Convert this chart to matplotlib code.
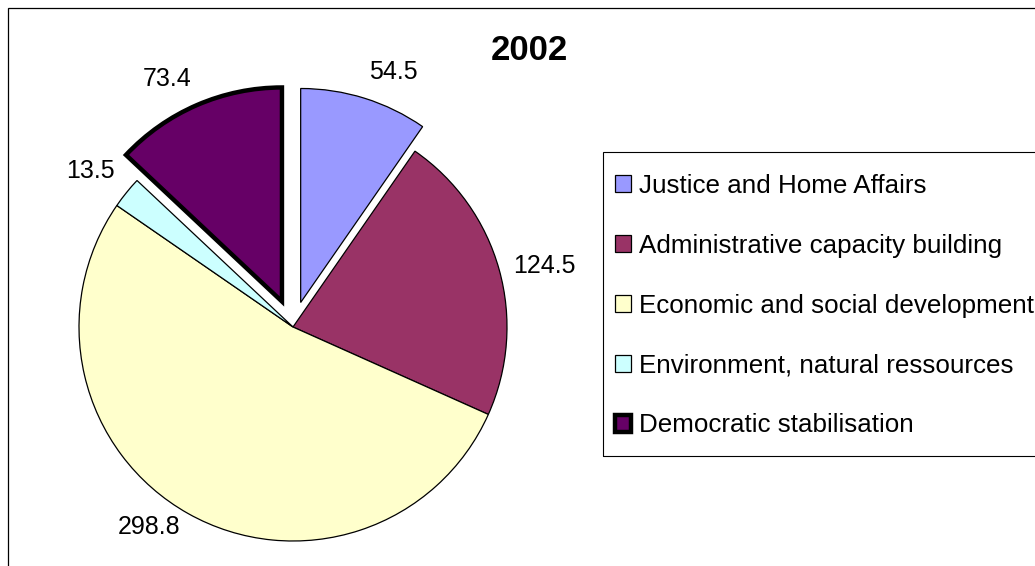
import matplotlib
matplotlib.use('Agg')
import matplotlib.pyplot as plt
from matplotlib.patches import Rectangle

plt.rcParams['font.family'] = ['Liberation Sans', 'DejaVu Sans']

# data
categories = ['Justice and Home Affairs',
              'Administrative capacity building',
              'Economic and social development',
              'Environment, natural ressources',
              'Democratic stabilisation']
values = [54.5, 124.5, 298.8, 13.5, 73.4]
value_labels = ['54.5', '124.5', '298.8', '13.5', '73.4']
title = '2002'

colors = ['#9999FF', '#993366', '#FFFFCC', '#CCFFFF', '#660066']
explode = [0.12, 0, 0, 0, 0.13]

W, H = 1035, 566
fig = plt.figure(figsize=(W / 100, H / 100), dpi=100)

def px_box(x0, y0, x1, y1):
    # pixel box (top-left origin) -> figure fraction rect
    return [x0 / W, 1 - y1 / H, (x1 - x0) / W, (y1 - y0) / H]

# pie centre (293, 327) px, radius 214 px
cx, cy, r, half = 293, 327, 214, 260
ax = fig.add_axes(px_box(cx - half, cy - half, cx + half, cy + half))

wedges, texts = ax.pie(values, labels=value_labels, colors=colors, explode=explode,
                       startangle=90, counterclock=False, labeldistance=1.07,
                       wedgeprops={'edgecolor': 'black', 'linewidth': 0.9},
                       textprops={'fontsize': 18, 'color': 'black'})
wedges[-1].set_linewidth(3.2)
# labels near the top sit above their anchor, like Excel does
for t in texts:
    if t.get_position()[1] > 0.5:
        t.set_va('bottom')

lim = half / r
ax.set_xlim(-lim, lim)
ax.set_ylim(-lim, lim)
ax.axis('off')

fig.text(529 / W, 1 - 50 / H, title, fontsize=25, fontweight='bold',
         ha='center', va='center')

leg = ax.legend(wedges, categories, loc='upper left',
                bbox_to_anchor=(615 / W, 1 - 174 / H), bbox_transform=fig.transFigure,
                borderaxespad=0, borderpad=0, fontsize=18.7, frameon=False,
                handlelength=0.62, handleheight=0.62, handletextpad=0.3,
                labelspacing=1.38)

# legend frame
lx0, ly0, lx1, ly1 = 603, 152, 1040, 456
fig.patches.append(Rectangle((lx0 / W, 1 - ly1 / H), (lx1 - lx0) / W, (ly1 - ly0) / H,
                             transform=fig.transFigure, fill=False,
                             edgecolor='black', linewidth=0.8))

# outer chart frame, cut off at right and bottom
fig.patches.append(Rectangle((8 / W, -0.1), 1.2, 1 - 8 / H + 0.1,
                             transform=fig.transFigure, fill=False,
                             edgecolor='black', linewidth=0.9))

fig.savefig('out.png', dpi=100)
